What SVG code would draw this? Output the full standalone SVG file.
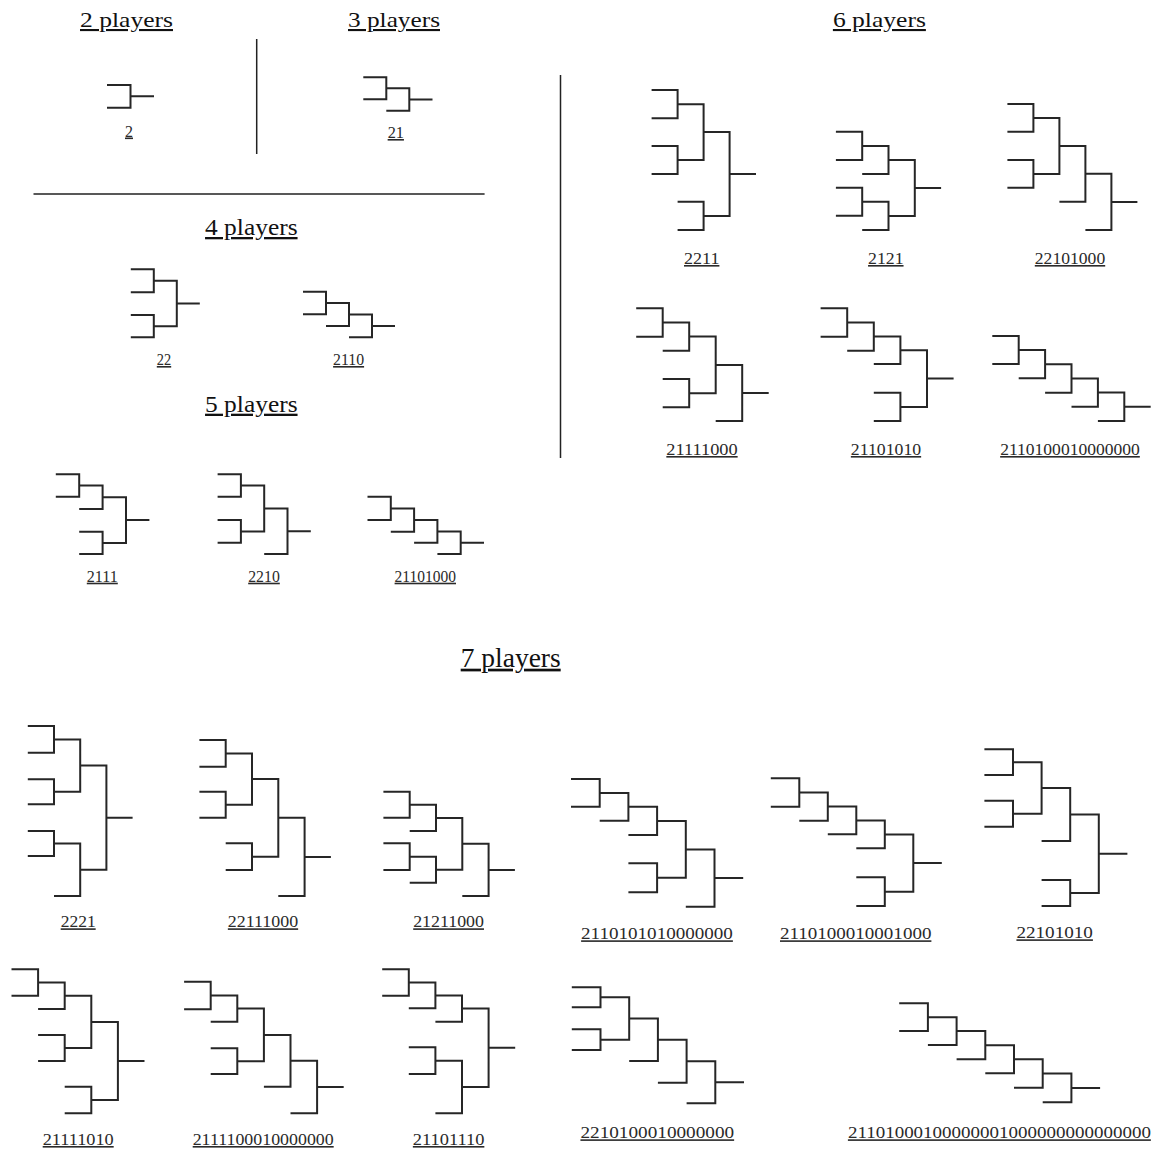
<svg xmlns="http://www.w3.org/2000/svg" width="1155" height="1149" viewBox="0 0 1155 1149">
<style>
.br{fill:none;stroke:#262626;stroke-width:2;stroke-linejoin:miter}
.sep{fill:none;stroke:#222;stroke-width:1.5}
.title{font-family:"Liberation Serif","Times New Roman",serif;fill:#111;text-decoration:underline;text-anchor:middle}
.lbl{font-family:"Liberation Serif","Times New Roman",serif;fill:#2a2a2a;text-decoration:underline;text-anchor:middle;font-size:16px}
</style>
<rect width="1155" height="1149" fill="#fff"/>
<g id="separators">
<path class="sep" d="M256.7 39V154M33.5 194H484.6M560.5 75V458"/>
</g>
<g id="titles">
<text class="title" x="126.5" y="27" font-size="21" textLength="93" lengthAdjust="spacingAndGlyphs">2 players</text>
<text class="title" x="394" y="27" font-size="21" textLength="92" lengthAdjust="spacingAndGlyphs">3 players</text>
<text class="title" x="879.4" y="27" font-size="21" textLength="93" lengthAdjust="spacingAndGlyphs">6 players</text>
<text class="title" x="251.3" y="235" font-size="23" textLength="92.5" lengthAdjust="spacingAndGlyphs">4 players</text>
<text class="title" x="251.3" y="411.7" font-size="23" textLength="92.5" lengthAdjust="spacingAndGlyphs">5 players</text>
<text class="title" x="510.7" y="666.7" font-size="27" textLength="100" lengthAdjust="spacingAndGlyphs">7 players</text>
</g>
<g id="connectors"></g>
<g id="b-2">
<path class="br" d="M107 85H130.5V107.7H107M130.5 96.3H154"/>
<text class="lbl" x="129" y="136.5">2</text>
</g>
<g id="b-21">
<path class="br" d="M363.3 77.3H386.3V99.3H363.3M386.3 88.3H409.3V110.7H386.3M409.3 99.5H432.5"/>
<text class="lbl" x="395.8" y="138" textLength="16.3" lengthAdjust="spacingAndGlyphs">21</text>
</g>
<g id="b-22">
<path class="br" d="M130.8 269.3H153.8V292.3H130.8M130.8 315H153.8V337.3H130.8M153.8 280.8H176.8V326.2H153.8M176.8 303.5H199.8"/>
<text class="lbl" x="164" y="365" textLength="14.4" lengthAdjust="spacingAndGlyphs">22</text>
</g>
<g id="b-2110">
<path class="br" d="M303 291.7H326V314.3H303M326 303H349V326H326M349 314.5H372V337.3H349M372 325.9H395"/>
<text class="lbl" x="348.6" y="365" textLength="31" lengthAdjust="spacingAndGlyphs">2110</text>
</g>
<g id="b-2111">
<path class="br" d="M55.8 474.3H79.2V496.7H55.8M79.2 485.5H102.6V509H79.2M79.2 531.7H102.6V554H79.2M102.6 497.3H126V542.9H102.6M126 520.1H149.4"/>
<text class="lbl" x="102.3" y="581.7" textLength="31" lengthAdjust="spacingAndGlyphs">2111</text>
</g>
<g id="b-2210">
<path class="br" d="M217.6 474.3H240.9V496.7H217.6M217.6 520H240.9V542.7H217.6M240.9 485.5H264.2V531.4H240.9M264.2 508.4H287.5V554H264.2M287.5 531.2H310.8"/>
<text class="lbl" x="264" y="581.7" textLength="31.6" lengthAdjust="spacingAndGlyphs">2210</text>
</g>
<g id="b-21101000">
<path class="br" d="M367.5 496.7H390.8V520H367.5M390.8 508.4H414.1V531.7H390.8M414.1 520H437.4V542.7H414.1M437.4 531.4H460.7V554H437.4M460.7 542.7H484"/>
<text class="lbl" x="425.3" y="581.7" textLength="61.4" lengthAdjust="spacingAndGlyphs">21101000</text>
</g>
<g id="b-2211">
<path class="br" d="M651.6 90H677.6V118.3H651.6M651.6 146H677.6V174H651.6M677.6 104.2H703.6V160H677.6M677.6 201.7H703.6V230H677.6M703.6 132.1H729.6V215.9H703.6M729.6 174H756"/>
<text class="lbl" x="701.7" y="264" font-size="17" textLength="35.4" lengthAdjust="spacingAndGlyphs">2211</text>
</g>
<g id="b-2121">
<path class="br" d="M835.9 131.7H862.2V160H835.9M862.2 145.9H888.5V174H862.2M835.9 187.7H862.2V215.7H835.9M862.2 201.7H888.5V230H862.2M888.5 159.9H914.8V215.9H888.5M914.8 187.9H941.1"/>
<text class="lbl" x="885.8" y="264" font-size="17" textLength="35.5" lengthAdjust="spacingAndGlyphs">2121</text>
</g>
<g id="b-22101000">
<path class="br" d="M1007.4 104H1033.4V131.7H1007.4M1007.4 160H1033.4V187.7H1007.4M1033.4 117.9H1059.4V173.9H1033.4M1059.4 145.9H1085.4V201.7H1059.4M1085.4 173.8H1111.4V230H1085.4M1111.4 201.9H1137.4"/>
<text class="lbl" x="1070" y="264" font-size="17" textLength="70.4" lengthAdjust="spacingAndGlyphs">22101000</text>
</g>
<g id="b-21111000">
<path class="br" d="M636.2 308.3H662.7V336.7H636.2M662.7 322.5H689.2V350.7H662.7M662.7 379H689.2V407.3H662.7M689.2 336.6H715.7V393.2H689.2M715.7 364.9H742.2V421H715.7M742.2 393H768.7"/>
<text class="lbl" x="702" y="455" font-size="17" textLength="71.3" lengthAdjust="spacingAndGlyphs">21111000</text>
</g>
<g id="b-21101010">
<path class="br" d="M820.6 308.3H847.2V336.7H820.6M847.2 322.5H873.8V350.7H847.2M873.8 336.6H900.4V364H873.8M873.8 392.7H900.4V421H873.8M900.4 350.3H927V406.9H900.4M927 378.6H953.6"/>
<text class="lbl" x="886" y="455" font-size="17" textLength="70.3" lengthAdjust="spacingAndGlyphs">21101010</text>
</g>
<g id="b-2110100010000000-6">
<path class="br" d="M992.3 336H1018.7V364H992.3M1018.7 350H1045.1V378.3H1018.7M1045.1 364.2H1071.5V392.7H1045.1M1071.5 378.4H1097.9V406.7H1071.5M1097.9 392.6H1124.3V421H1097.9M1124.3 406.8H1150.7"/>
<text class="lbl" x="1070" y="455" font-size="17" textLength="139.7" lengthAdjust="spacingAndGlyphs">2110100010000000</text>
</g>
<g id="b-2221">
<path class="br" d="M27.8 726H54V752.7H27.8M27.8 779.3H54V804.3H27.8M27.8 831H54V856H27.8M54 739.4H80.2V791.8H54M54 843.5H80.2V896H54M80.2 765.6H106.4V869.8H80.2M106.4 817.7H132.6"/>
<text class="lbl" x="78.2" y="927.3" font-size="17" textLength="35" lengthAdjust="spacingAndGlyphs">2221</text>
</g>
<g id="b-22111000">
<path class="br" d="M199.4 740H225.7V766.7H199.4M199.4 791.7H225.7V817.7H199.4M225.7 753.4H252V804.7H225.7M225.7 843.3H252V870H225.7M252 779H278.3V856.7H252M278.3 817.8H304.6V896H278.3M304.6 856.9H330.9"/>
<text class="lbl" x="263" y="927.3" font-size="17" textLength="70.3" lengthAdjust="spacingAndGlyphs">22111000</text>
</g>
<g id="b-21211000">
<path class="br" d="M383.4 791.7H409.7V817.7H383.4M409.7 804.7H436V831H409.7M383.4 843.3H409.7V870H383.4M409.7 856.7H436V882.7H409.7M436 817.9H462.3V869.7H436M462.3 843.8H488.6V896H462.3M488.6 869.9H514.9"/>
<text class="lbl" x="448.6" y="927.3" font-size="17" textLength="70.8" lengthAdjust="spacingAndGlyphs">21211000</text>
</g>
<g id="b-2110101010000000">
<path class="br" d="M571 779H599.7V806.7H571M599.7 792.9H628.4V820.7H599.7M628.4 806.8H657.1V835H628.4M628.4 863.3H657.1V892.3H628.4M657.1 820.9H685.8V877.8H657.1M685.8 849.4H714.5V906.7H685.8M714.5 878H743.2"/>
<text class="lbl" x="657" y="939.3" font-size="17" textLength="151.8" lengthAdjust="spacingAndGlyphs">2110101010000000</text>
</g>
<g id="b-2110100010001000">
<path class="br" d="M770.8 778.3H799.3V806.7H770.8M799.3 792.5H827.8V820.7H799.3M827.8 806.6H856.3V834.3H827.8M856.3 820.5H884.8V848.3H856.3M856.3 877.3H884.8V906H856.3M884.8 834.4H913.3V891.7H884.8M913.3 863H941.8"/>
<text class="lbl" x="855.7" y="939.3" font-size="17" textLength="151.4" lengthAdjust="spacingAndGlyphs">2110100010001000</text>
</g>
<g id="b-22101010">
<path class="br" d="M984.4 749.3H1013V775H984.4M984.4 800.7H1013V826.7H984.4M1013 762.2H1041.6V813.7H1013M1041.6 787.9H1070.2V841H1041.6M1041.6 880H1070.2V906H1041.6M1070.2 814.5H1098.8V893H1070.2M1098.8 853.7H1127.4"/>
<text class="lbl" x="1054.7" y="938.3" font-size="17" textLength="76.5" lengthAdjust="spacingAndGlyphs">22101010</text>
</g>
<g id="b-21111010">
<path class="br" d="M11.5 969.3H38.1V995.7H11.5M38.1 982.5H64.7V1009H38.1M38.1 1035H64.7V1061H38.1M64.7 995.8H91.3V1048H64.7M64.7 1086.7H91.3V1113.3H64.7M91.3 1021.9H117.9V1100H91.3M117.9 1061H144.5"/>
<text class="lbl" x="78.2" y="1145" font-size="17" textLength="71" lengthAdjust="spacingAndGlyphs">21111010</text>
</g>
<g id="b-2111100010000000">
<path class="br" d="M184.1 981.7H210.7V1009.3H184.1M210.7 995.5H237.3V1021.7H210.7M210.7 1048.3H237.3V1074H210.7M237.3 1008.6H263.9V1061.2H237.3M263.9 1034.9H290.5V1086.7H263.9M290.5 1060.8H317.1V1113.3H290.5M317.1 1087H343.7"/>
<text class="lbl" x="263.2" y="1145" font-size="17" textLength="141" lengthAdjust="spacingAndGlyphs">2111100010000000</text>
</g>
<g id="b-21101110">
<path class="br" d="M382.2 969.3H408.8V995.7H382.2M408.8 982.5H435.4V1008.3H408.8M435.4 995.4H462V1021.7H435.4M408.8 1047.3H435.4V1074H408.8M435.4 1060.7H462V1113.3H435.4M462 1008.6H488.6V1087H462M488.6 1047.8H515.2"/>
<text class="lbl" x="448.6" y="1145" font-size="17" textLength="71.5" lengthAdjust="spacingAndGlyphs">21101110</text>
</g>
<g id="b-2210100010000000">
<path class="br" d="M571.8 987.3H600.5V1007.3H571.8M571.8 1029.3H600.5V1050H571.8M600.5 997.3H629.2V1039.7H600.5M629.2 1018.5H657.9V1061H629.2M657.9 1039.8H686.6V1082.7H657.9M686.6 1061.2H715.3V1103.3H686.6M715.3 1082.3H744"/>
<text class="lbl" x="657.3" y="1138.3" font-size="17" textLength="153.7" lengthAdjust="spacingAndGlyphs">2210100010000000</text>
</g>
<g id="b-21101000100000001000000000000000">
<path class="br" d="M899.2 1003.3H927.9V1031H899.2M927.9 1017.2H956.6V1045H927.9M956.6 1031.1H985.3V1059.3H956.6M985.3 1045.2H1014V1073.3H985.3M1014 1059.3H1042.7V1087.7H1014M1042.7 1073.5H1071.4V1102.3H1042.7M1071.4 1087.9H1100.1"/>
<text class="lbl" x="999.4" y="1138.3" font-size="17" textLength="303" lengthAdjust="spacingAndGlyphs">21101000100000001000000000000000</text>
</g>
</svg>
